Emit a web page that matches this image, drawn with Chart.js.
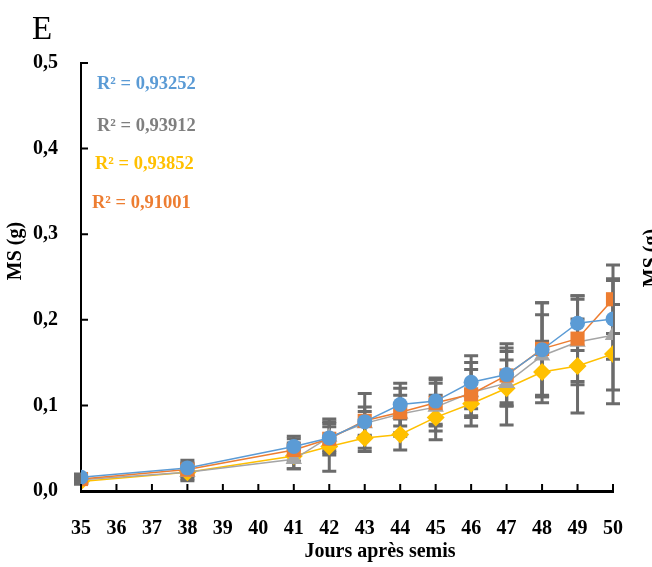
<!DOCTYPE html>
<html>
<head>
<meta charset="utf-8">
<script src="https://cdn.jsdelivr.net/npm/chart.js@4/dist/chart.umd.min.js"></script>
<style>
	html, body { margin: 0; padding: 0; background: #fff; }
	canvas { display: block; }
</style>
</head>
<body>
<canvas id="chart" width="652" height="567"></canvas>
<script>
// days after sowing
const days = [ 35, 38, 41, 42, 43, 44, 45, 46, 47, 48, 49, 50 ];

// dry mass (g) per series
const blueValues   = [ 0.016, 0.027, 0.052, 0.062, 0.081, 0.101, 0.105, 0.127, 0.136, 0.165, 0.196, 0.201 ];
const orangeValues = [ 0.014, 0.025, 0.048, 0.061, 0.082, 0.092, 0.103, 0.113, 0.135, 0.166, 0.178, 0.224 ];
const grayValues   = [ 0.013, 0.022, 0.037, 0.063, 0.079, 0.090, 0.098, 0.115, 0.126, 0.158, 0.174, 0.182 ];
const yellowValues = [ 0.011, 0.022, 0.041, 0.052, 0.062, 0.066, 0.086, 0.102, 0.120, 0.139, 0.146, 0.160 ];

// standard errors
const blueErrors   = [ 0.004, 0.009, 0.012, 0.017, 0.017, 0.025, 0.027, 0.031, 0.036, 0.055, 0.032, 0.047 ];
const orangeErrors = [ 0.004, 0.008, 0.013, 0.014, 0.032, 0.028, 0.027, 0.037, 0.032, 0.054, 0.050, 0.040 ];
const grayErrors   = [ 0.004, 0.010, 0.011, 0.021, 0.014, 0.022, 0.028, 0.027, 0.027, 0.048, 0.050, 0.064 ];
const yellowErrors = [ 0.003, 0.008, 0.015, 0.029, 0.016, 0.018, 0.026, 0.016, 0.043, 0.036, 0.055, 0.058 ];

const r2Labels = [ 'R² = 0,93252', 'R² = 0,93912', 'R² = 0,93852', 'R² = 0,91001' ];

const yTicks = [ 0, 0.1, 0.2, 0.3, 0.4, 0.5 ];

const serif = '"Liberation Serif", "Times New Roman", serif';

function points( values ) {
	return days.map( ( d, i ) => ( { x: d, y: values[ i ] } ) );
}

const errorBars = {
	id: 'errorBars',
	beforeDatasetsDraw( chart ) {
		const { ctx, scales: { x, y } } = chart;
		ctx.save();
		ctx.strokeStyle = '#6b6b6b';
		ctx.lineWidth = 3;
		chart.data.datasets.forEach( ds => {
			ds.data.forEach( ( p, i ) => {
				const e = ds.errors[ i ];
				const px = x.getPixelForValue( p.x );
				const top = y.getPixelForValue( p.y + e );
				const bot = y.getPixelForValue( p.y - e );
				ctx.beginPath();
				ctx.moveTo( px, top );
				ctx.lineTo( px, bot );
				ctx.moveTo( px - 7, top );
				ctx.lineTo( px + 7, top );
				ctx.moveTo( px - 7, bot );
				ctx.lineTo( px + 7, bot );
				ctx.stroke();
			} );
		} );
		ctx.restore();
	}
};

const extras = {
	id: 'extras',
	afterDraw( chart ) {
		const { ctx, scales: { x, y }, chartArea } = chart;
		ctx.save();

		// inner tick marks
		ctx.strokeStyle = '#000';
		ctx.lineWidth = 2;
		ctx.beginPath();
		x.ticks.forEach( ( t, i ) => {
			const px = x.getPixelForTick( i );
			ctx.moveTo( px, chartArea.bottom );
			ctx.lineTo( px, chartArea.bottom - 7 );
		} );
		y.ticks.forEach( ( t, i ) => {
			const py = y.getPixelForTick( i );
			ctx.moveTo( chartArea.left, py );
			ctx.lineTo( chartArea.left + 7, py );
		} );
		ctx.stroke();

		// panel letter
		ctx.fillStyle = '#000';
		ctx.font = '33px ' + serif;
		ctx.textAlign = 'left';
		ctx.textBaseline = 'alphabetic';
		ctx.fillText( 'E', 32, 39 );

		// R² annotations
		const r2Colors = [ '#5B9BD5', '#7F7F7F', '#FFC000', '#ED7D31' ];
		const r2Pos = [ [ 97, 84 ], [ 97, 126 ], [ 95, 164 ], [ 92, 203 ] ];
		ctx.font = 'bold 18.5px ' + serif;
		ctx.textBaseline = 'middle';
		r2Labels.forEach( ( txt, i ) => {
			ctx.fillStyle = r2Colors[ i ];
			ctx.fillText( txt, r2Pos[ i ][ 0 ], r2Pos[ i ][ 1 ] );
		} );

		// axis titles
		ctx.fillStyle = '#000';
		ctx.font = 'bold 20px ' + serif;
		ctx.textAlign = 'center';
		ctx.textBaseline = 'alphabetic';
		ctx.fillText( 'Jours après semis', 380, 557 );

		ctx.save();
		ctx.translate( 21, 251 );
		ctx.rotate( -Math.PI / 2 );
		ctx.fillText( 'MS (g)', 0, 0 );
		ctx.restore();

		// neighbouring panel's axis title, cut by the edge
		ctx.save();
		ctx.translate( 657, 258 );
		ctx.rotate( -Math.PI / 2 );
		ctx.fillText( 'MS (g)', 0, 0 );
		ctx.restore();

		ctx.restore();
	}
};

function series( label, values, errors, color, style, radius ) {
	return {
		label: label,
		data: points( values ),
		errors: errors,
		borderColor: color,
		backgroundColor: color,
		borderWidth: 1.5,
		pointStyle: style,
		pointRadius: radius,
		pointHoverRadius: radius,
		pointBorderWidth: 0,
		tension: 0,
	};
}

new Chart( document.getElementById( 'chart' ).getContext( '2d' ), {
	type: 'line',
	data: {
		datasets: [
			series( 'blue', blueValues, blueErrors, '#5B9BD5', 'circle', 7.5 ),
			series( 'orange', orangeValues, orangeErrors, '#ED7D31', 'rect', 10 ),
			series( 'gray', grayValues, grayErrors, '#A5A5A5', 'triangle', 9.5 ),
			series( 'yellow', yellowValues, yellowErrors, '#FFC000', 'rectRot', 9 ),
		],
	},
	options: {
		responsive: false,
		animation: false,
		devicePixelRatio: 1,
		layout: { padding: { top: 63, right: 39, left: 0, bottom: 0 } },
		plugins: {
			legend: { display: false },
			tooltip: { enabled: false },
		},
		scales: {
			x: {
				type: 'linear',
				min: 35,
				max: 50,
				afterFit: s => { s.height = 76; },
				grid: { display: false, drawTicks: false },
				border: { display: true, color: '#000', width: 3 },
				ticks: {
					stepSize: 1,
					autoSkip: false,
					maxRotation: 0,
					padding: 26,
					color: '#000',
					font: { family: serif, size: 20, weight: 'bold' },
				},
			},
			y: {
				min: 0,
				max: 0.5,
				afterFit: s => { s.width = 81; },
				afterBuildTicks: s => { s.ticks = yTicks.map( v => ( { value: v } ) ); },
				grid: { display: false, drawTicks: false },
				border: { display: true, color: '#000', width: 2 },
				ticks: {
					padding: 23,
					color: '#000',
					font: { family: serif, size: 20, weight: 'bold' },
					callback: v => v.toFixed( 1 ).replace( '.', ',' ),
				},
			},
		},
	},
	plugins: [ errorBars, extras ],
} );
</script>
</body>
</html>
